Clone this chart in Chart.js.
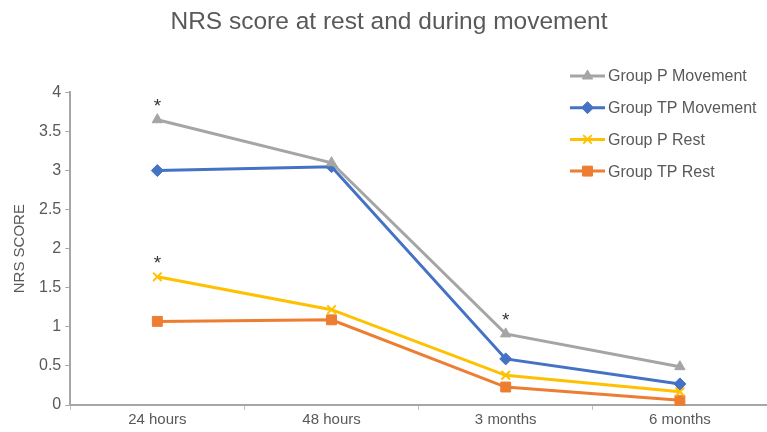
<!DOCTYPE html>
<html>
<head>
<meta charset="utf-8">
<script src="https://cdn.jsdelivr.net/npm/chart.js@4.4.0/dist/chart.umd.min.js"></script>
<style>
  html, body { margin: 0; padding: 0; background: #fff; }
  #wrap { width: 767px; height: 432px; }
</style>
</head>
<body>
<div id="wrap"><canvas id="nrsChart" width="767" height="432"></canvas></div>
<script>
// -------------------- Data --------------------
const timePoints = ["24 hours", "48 hours", "3 months", "6 months"];
const seriesNames = ["Group P Movement", "Group TP Movement", "Group P Rest", "Group TP Rest"];
const groupPMovement = [3.65, 3.1, 0.91, 0.49];
const groupTPMovement = [3.0, 3.05, 0.59, 0.27];
const groupPRest = [1.64, 1.22, 0.38, 0.17];
const groupTPRest = [1.07, 1.09, 0.23, 0.06];
const yTicks = [0, 0.5, 1, 1.5, 2, 2.5, 3, 3.5, 4];
// significance marks: [series index, point index]
const starMarks = [[0, 0], [2, 0], [0, 2]];

const colors = ["#a5a5a5", "#4472c4", "#ffc000", "#ed7d31"];
const markers = ["triangle", "rectRot", "crossRot", "rect"];
const markerSize = [6, 6, 6, 7];
const textGray = "#595959";
const fontFamily = "'Liberation Sans', Arial, sans-serif";

// -------------------- Legend (drawn on top of plot) --------------------
const sideLegend = {
  id: "sideLegend",
  afterDraw(chart) {
    const ctx = chart.ctx;
    ctx.save();
    chart.data.datasets.forEach((ds, i) => {
      const y = 76 + i * 31.7;
      ctx.strokeStyle = ds.borderColor;
      ctx.fillStyle = ds.borderColor;
      ctx.lineWidth = 3;
      ctx.beginPath();
      ctx.moveTo(570, y);
      ctx.lineTo(605, y);
      ctx.stroke();
      ctx.lineWidth = ds.pointStyle === "crossRot" ? 2 : 1;
      Chart.helpers.drawPoint(ctx, {
        pointStyle: ds.pointStyle,
        radius: ds.pointRadius,
        borderWidth: ctx.lineWidth
      }, 587.5, y);
      ctx.fillStyle = textGray;
      ctx.font = "16px " + fontFamily;
      ctx.textBaseline = "middle";
      ctx.fillText(ds.label, 608, y + 1);
    });
    ctx.restore();
  }
};

// -------------------- Asterisks --------------------
const starPlugin = {
  id: "starPlugin",
  afterDatasetsDraw(chart) {
    const ctx = chart.ctx;
    ctx.save();
    ctx.fillStyle = "#333333";
    ctx.font = "19px " + fontFamily;
    ctx.textAlign = "center";
    ctx.textBaseline = "middle";
    starMarks.forEach(([s, p]) => {
      const pt = chart.getDatasetMeta(s).data[p];
      ctx.fillText("*", pt.x, pt.y - 13);
    });
    ctx.restore();
  }
};

const allSeries = [groupPMovement, groupTPMovement, groupPRest, groupTPRest];

new Chart(document.getElementById("nrsChart"), {
  type: "line",
  data: {
    labels: timePoints,
    datasets: allSeries.map((vals, i) => ({
      label: seriesNames[i],
      data: vals,
      borderColor: colors[i],
      backgroundColor: colors[i],
      borderWidth: 3,
      pointStyle: markers[i],
      pointRadius: markerSize[i],
      pointBorderWidth: markers[i] === "crossRot" ? 2 : 1,
      pointBorderColor: colors[i],
      pointBackgroundColor: colors[i],
      clip: false,
      tension: 0
    }))
  },
  options: {
    responsive: false,
    animation: false,
    layout: { autoPadding: false, padding: { left: 11, right: 0, top: 0, bottom: 2 } },
    plugins: {
      legend: { display: false },
      tooltip: { enabled: false },
      title: {
        display: true,
        text: "NRS score at rest and during movement",
        color: textGray,
        font: { size: 24.5, family: fontFamily, weight: "normal" },
        padding: { top: 8, bottom: 55 }
      }
    },
    scales: {
      x: {
        offset: true,
        afterFit(scale) { scale.paddingLeft = 0; scale.paddingRight = 0; },
        grid: { offset: true, drawOnChartArea: false, drawTicks: true, tickLength: 5, color: "#bfbfbf" },
        border: { color: "#a6a6a6", width: 2 },
        ticks: { color: textGray, font: { size: 15, family: fontFamily }, padding: 1 }
      },
      y: {
        min: 0,
        max: 4,
        afterBuildTicks(scale) { scale.ticks = yTicks.map(v => ({ value: v })); },
        grid: { drawOnChartArea: false, drawTicks: true, tickLength: 5, color: "#a6a6a6" },
        border: { color: "#a6a6a6", width: 2 },
        ticks: {
          color: textGray,
          font: { size: 16, family: fontFamily },
          padding: 4,
          callback: (v) => String(v)
        },
        title: {
          display: true,
          text: "NRS SCORE",
          color: textGray,
          font: { size: 15, family: fontFamily },
          padding: { top: 0, bottom: 6 }
        }
      }
    }
  },
  plugins: [sideLegend, starPlugin]
});
</script>
</body>
</html>
